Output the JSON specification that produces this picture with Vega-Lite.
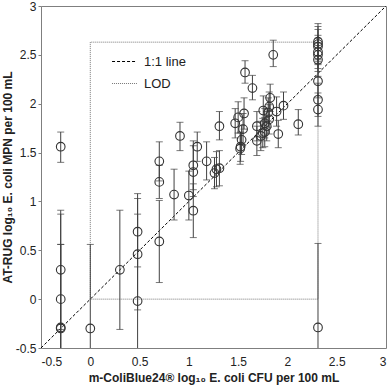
{
  "$schema": "https://vega.github.io/schema/vega-lite/v6.json",
  "width": 345,
  "height": 342,
  "autosize": "none",
  "padding": {"left": 41, "top": 6, "right": 6, "bottom": 37},
  "config": {
    "font": "Liberation Sans",
    "view": {"stroke": "#7f7f7f", "strokeWidth": 1},
    "axis": {"grid": false, "domain": false, "tickColor": "#7f7f7f", "labelFontSize": 12, "labelColor": "#222", "titleFontSize": 12, "titleFontWeight": "bold", "titleColor": "#222"}
  },
  "datasets": {
    "pts": [
      {"x": -0.3, "y": 1.56, "lo": 1.40, "hi": 1.71},
      {"x": -0.3, "y": 0.30, "lo": -0.31, "hi": 0.91},
      {"x": -0.3, "y": 0.00, "lo": -0.87, "hi": 0.87},
      {"x": -0.3, "y": -0.30, "lo": -1.16, "hi": 0.56},
      {"x": -0.3, "y": -0.29, "lo": -1.16, "hi": 0.56},
      {"x": 0.0, "y": -0.30, "lo": -1.16, "hi": 0.56},
      {"x": 0.30, "y": 0.30, "lo": -0.31, "hi": 0.91},
      {"x": 0.48, "y": 0.69, "lo": 0.33, "hi": 1.08},
      {"x": 0.48, "y": 0.46, "lo": -0.11, "hi": 1.03},
      {"x": 0.48, "y": -0.02, "lo": -0.91, "hi": 0.87},
      {"x": 0.70, "y": 1.41, "lo": 1.21, "hi": 1.61},
      {"x": 0.70, "y": 1.20, "lo": 1.03, "hi": 1.37},
      {"x": 0.70, "y": 0.59, "lo": 0.17, "hi": 1.01},
      {"x": 0.85, "y": 1.07, "lo": 0.81, "hi": 1.33},
      {"x": 0.91, "y": 1.67, "lo": 1.52, "hi": 1.81},
      {"x": 1.00, "y": 1.06, "lo": 0.81, "hi": 1.31},
      {"x": 1.045, "y": 1.37, "lo": 1.12, "hi": 1.62},
      {"x": 1.045, "y": 1.30, "lo": 1.05, "hi": 1.57},
      {"x": 1.045, "y": 0.905, "lo": 0.63, "hi": 1.18},
      {"x": 1.085, "y": 1.56, "lo": 1.41, "hi": 1.71},
      {"x": 1.18, "y": 1.41, "lo": 1.22, "hi": 1.61},
      {"x": 1.26, "y": 1.29, "lo": 1.13, "hi": 1.45},
      {"x": 1.28, "y": 1.33, "lo": 1.15, "hi": 1.51},
      {"x": 1.31, "y": 1.34, "lo": 1.16, "hi": 1.52},
      {"x": 1.31, "y": 1.77, "lo": 1.63, "hi": 1.92},
      {"x": 1.47, "y": 1.80, "lo": 1.65, "hi": 1.95},
      {"x": 1.50, "y": 1.86, "lo": 1.70, "hi": 2.02},
      {"x": 1.56, "y": 1.90, "lo": 1.74, "hi": 2.06},
      {"x": 1.55, "y": 1.74, "lo": 1.58, "hi": 1.90},
      {"x": 1.535, "y": 1.63, "lo": 1.48, "hi": 1.78},
      {"x": 1.525, "y": 1.56, "lo": 1.41, "hi": 1.71},
      {"x": 1.52, "y": 1.54, "lo": 1.38, "hi": 1.70},
      {"x": 1.57, "y": 2.32, "lo": 2.21, "hi": 2.44},
      {"x": 1.645, "y": 2.16, "lo": 2.04, "hi": 2.29},
      {"x": 1.856, "y": 2.50, "lo": 2.38, "hi": 2.65},
      {"x": 1.69, "y": 1.77, "lo": 1.62, "hi": 1.92},
      {"x": 1.69, "y": 1.62, "lo": 1.47, "hi": 1.77},
      {"x": 1.73, "y": 1.67, "lo": 1.52, "hi": 1.82},
      {"x": 1.75, "y": 1.70, "lo": 1.55, "hi": 1.85},
      {"x": 1.77, "y": 1.71, "lo": 1.56, "hi": 1.86},
      {"x": 1.77, "y": 1.80, "lo": 1.65, "hi": 1.95},
      {"x": 1.79, "y": 1.77, "lo": 1.62, "hi": 1.92},
      {"x": 1.755, "y": 1.93, "lo": 1.78, "hi": 2.08},
      {"x": 1.805, "y": 1.91, "lo": 1.76, "hi": 2.06},
      {"x": 1.815, "y": 1.97, "lo": 1.82, "hi": 2.12},
      {"x": 1.815, "y": 1.84, "lo": 1.69, "hi": 1.99},
      {"x": 1.825, "y": 2.06, "lo": 1.92, "hi": 2.20},
      {"x": 1.89, "y": 1.92, "lo": 1.77, "hi": 2.07},
      {"x": 1.96, "y": 1.98, "lo": 1.84, "hi": 2.12},
      {"x": 1.907, "y": 1.69, "lo": 1.55, "hi": 1.83},
      {"x": 2.11, "y": 1.79, "lo": 1.68, "hi": 1.94},
      {"x": 2.31, "y": 2.635, "lo": 2.45, "hi": 2.82},
      {"x": 2.31, "y": 2.61, "lo": 2.43, "hi": 2.79},
      {"x": 2.31, "y": 2.585, "lo": 2.41, "hi": 2.76},
      {"x": 2.31, "y": 2.53, "lo": 2.36, "hi": 2.70},
      {"x": 2.31, "y": 2.50, "lo": 2.33, "hi": 2.67},
      {"x": 2.31, "y": 2.45, "lo": 2.28, "hi": 2.62},
      {"x": 2.31, "y": 2.23, "lo": 2.06, "hi": 2.40},
      {"x": 2.31, "y": 2.04, "lo": 1.87, "hi": 2.21},
      {"x": 2.31, "y": 1.94, "lo": 1.77, "hi": 2.11},
      {"x": 2.31, "y": -0.29, "lo": -1.15, "hi": 0.57}
    ],
    "lines": [
      {"series": "1:1 line", "order": 1, "x": -0.5, "y": -0.5},
      {"series": "1:1 line", "order": 2, "x": 3, "y": 3},
      {"series": "LOD", "order": 1, "x": 0, "y": 0},
      {"series": "LOD", "order": 2, "x": 0, "y": 2.63},
      {"series": "LOD", "order": 3, "x": 2.31, "y": 2.63},
      {"series": "LOD", "order": 4, "x": 2.31, "y": 0},
      {"series": "LOD", "order": 5, "x": 0, "y": 0}
    ]
  },
  "encoding": {
    "x": {"field": "x", "type": "quantitative", "scale": {"domain": [-0.5, 3], "nice": false, "zero": false},
      "axis": {"values": [-0.5, 0, 0.5, 1, 1.5, 2, 2.5, 3], "labelExpr": "'' + datum.value", "ticks": false, "labelPadding": 8, "title": "m-ColiBlue24® log₁₀ E. coli CFU per 100 mL", "titlePadding": 5}},
    "y": {"field": "y", "type": "quantitative", "scale": {"domain": [-0.5, 3], "nice": false, "zero": false},
      "axis": {"values": [-0.5, 0, 0.5, 1, 1.5, 2, 2.5, 3], "labelExpr": "'' + datum.value", "ticks": true, "tickSize": 3, "labelPadding": 2, "title": "AT-RUG log₁₀ E. coli MPN per 100 mL", "titlePadding": 1}}
  },
  "layer": [
    {
      "data": {"name": "lines"},
      "mark": {"type": "line", "strokeWidth": 1, "clip": true},
      "encoding": {
        "order": {"field": "order", "type": "quantitative"},
        "color": {"field": "series", "type": "nominal", "scale": {"domain": ["1:1 line", "LOD"], "range": ["#000000", "#777777"]},
          "legend": {"title": null, "orient": "none", "legendX": 70, "legendY": 42, "symbolType": "stroke", "symbolSize": 620, "symbolStrokeWidth": 1.2, "labelFontSize": 13, "labelColor": "#222", "labelOffset": 6, "rowPadding": 1}},
        "strokeDash": {"field": "series", "type": "nominal", "scale": {"domain": ["1:1 line", "LOD"], "range": [[3, 2], [1, 1]]}}
      }
    },
    {
      "data": {"name": "pts"},
      "mark": {"type": "rule", "color": "#404040", "strokeWidth": 1, "clip": true},
      "encoding": {"y": {"field": "lo", "type": "quantitative"}, "y2": {"field": "hi"}}
    },
    {
      "data": {"name": "pts"},
      "mark": {"type": "tick", "orient": "horizontal", "color": "#404040", "size": 7, "thickness": 1, "clip": true},
      "encoding": {"y": {"field": "lo", "type": "quantitative"}}
    },
    {
      "data": {"name": "pts"},
      "mark": {"type": "tick", "orient": "horizontal", "color": "#404040", "size": 7, "thickness": 1, "clip": true},
      "encoding": {"y": {"field": "hi", "type": "quantitative"}}
    },
    {
      "data": {"name": "pts"},
      "mark": {"type": "point", "shape": "circle", "filled": false, "size": 75, "stroke": "#333333", "strokeWidth": 1.1, "opacity": 1, "clip": true},
      "encoding": {}
    }
  ]
}
